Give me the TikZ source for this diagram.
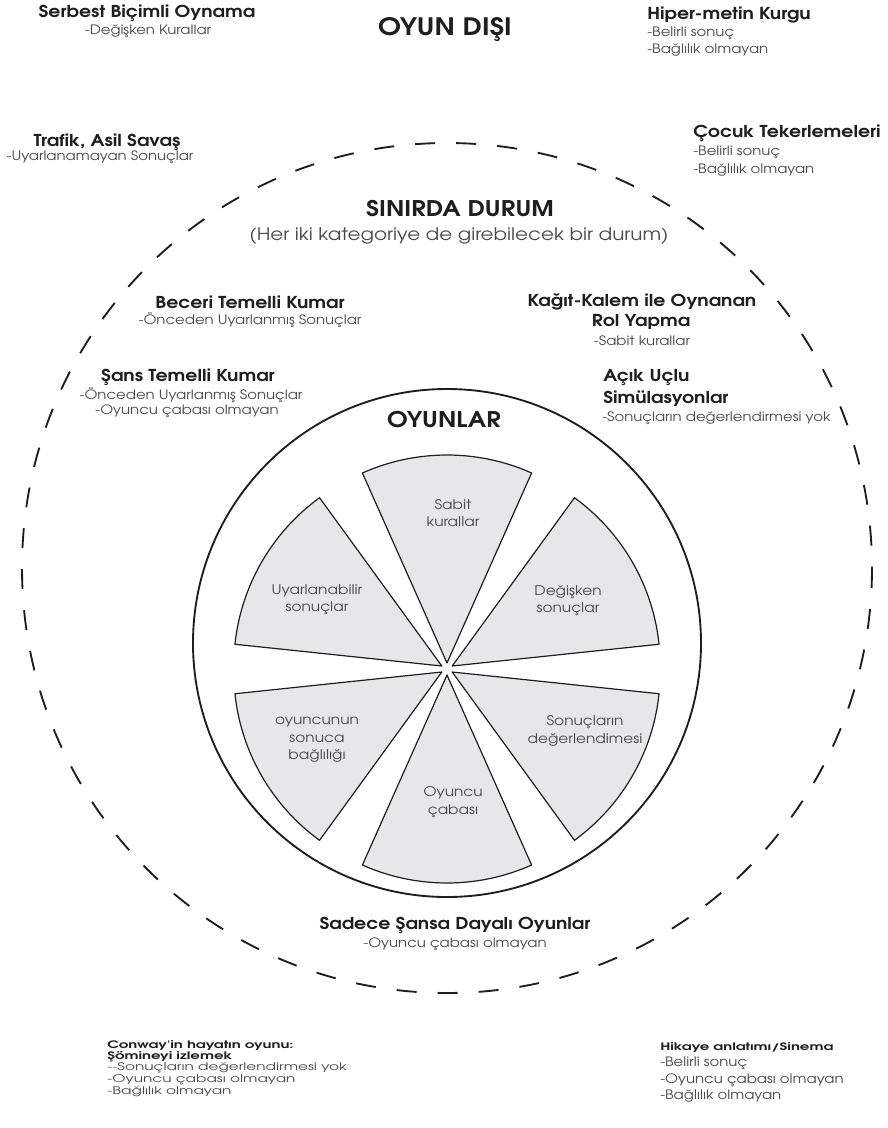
\documentclass[tikz,border=0pt]{standalone}
\usepackage{fontspec}
\setmainfont{texgyreadventor}[Extension=.otf,UprightFont=*-regular,BoldFont=*-bold,ItalicFont=*-italic,BoldItalicFont=*-bolditalic,FakeStretch=1.15]
\newfontfamily\widefont{texgyreadventor}[Extension=.otf,UprightFont=*-regular,BoldFont=*-bold,FakeStretch=1.45]
\usetikzlibrary{calc}
\definecolor{ink}{HTML}{1E1E1E}
\definecolor{soft}{HTML}{4A4A4A}
\definecolor{pale}{HTML}{E7E7EA}
\tikzstyle{slice}=[draw=ink,fill=pale,line width=0.9pt,line join=round]
\tikzstyle{title}=[inner sep=0pt,text=ink,font=\bfseries\fontsize{12.3}{14}\selectfont]
\tikzstyle{smalltitle}=[inner sep=0pt,text=ink,font=\widefont\bfseries\fontsize{7.7}{9}\selectfont]
\tikzstyle{heading}=[inner sep=0pt,text=ink,font=\bfseries\fontsize{16.2}{19}\selectfont]
\tikzstyle{note}=[inner sep=0pt,text=soft,font=\fontsize{9.7}{11}\selectfont]
\tikzstyle{smallnote}=[inner sep=0pt,text=soft,font=\widefont\fontsize{7.9}{9}\selectfont]
\tikzstyle{slicetext}=[inner sep=0pt,text=soft,align=center,font=\fontsize{10}{13}\selectfont]

\begin{document}
\begin{tikzpicture}[x=0.75pt,y=-0.75pt]
	\useasboundingbox (0,0) rectangle (888,1128);
	\coordinate (mid) at (447,568);
	\coordinate (core) at (447,643);
	\coordinate (hub) at (447,669);
	
	% outer border and games circle
	\draw[ink,line width=1.4pt,dash pattern=on 15pt off 15.8pt] (mid) circle[radius=425];
	\draw[ink,line width=1.4pt] (core) circle[radius=254];
	
	\foreach \b in {30,90,...,330} {
		\filldraw[slice] ($(hub)+(\b:6)$) -- ++(\b-24:208) arc[start angle=\b-24,end angle=\b+24,radius=208] -- cycle;
	}
	
	% outside the border
	\node[title] (freeplay) at (147,13) {Serbest Biçimli Oynama};
	\node[note] (freeplay1) at (148,31) {-Değişken Kurallar};
	\node[heading,font=\bfseries\fontsize{18}{21}\selectfont] (outside) at (445,30) {OYUN DIŞI};
	\node[title,anchor=west] (hyper) at (647,15) {Hiper-metin Kurgu};
	\node[note,anchor=west] (hyper1) at (647,33) {-Belirli sonuç};
	\node[note,anchor=west] (hyper2) at (647,50) {-Bağlılık olmayan};
	
	\node[title] (traffic) at (107,142) {Trafik, Asil Savaş};
	\node[note] (traffic1) at (100,157) {-Uyarlanamayan Sonuçlar};
	\node[title,anchor=west] (rhymes) at (693,133) {Çocuk Tekerlemeleri};
	\node[note,anchor=west] (rhymes1) at (693,152) {-Belirli sonuç};
	\node[note,anchor=west] (rhymes2) at (693,170) {-Bağlılık olmayan};
	
	% border cases
	\node[heading] (border) at (460,209) {SINIRDA DURUM};
	\node[inner sep=0pt,text=soft,font=\fontsize{13}{15}\selectfont] (border1) at (459,236) {(Her iki kategoriye de girebilecek bir durum)};
	
	\node[title] (skill) at (250,302) {Beceri Temelli Kumar};
	\node[note] (skill1) at (250,320) {-Önceden Uyarlanmış Sonuçlar};
	\node[title] (chance) at (188,377) {Şans Temelli Kumar};
	\node[note] (chance1) at (191,395) {-Önceden Uyarlanmış Sonuçlar};
	\node[note] (chance2) at (187,411) {-Oyuncu çabası olmayan};
	
	\node[title] (rpg) at (642,302) {Kağıt-Kalem ile Oynanan};
	\node[title] (rpg1) at (641,322) {Rol Yapma};
	\node[note] (rpg2) at (642,341) {-Sabit kurallar};
	\node[title,anchor=west] (sim) at (603,378) {Açık Uçlu};
	\node[title,anchor=west] (sim1) at (603,399) {Simülasyonlar};
	\node[note,anchor=west] (sim2) at (602,418) {-Sonuçların değerlendirmesi yok};
	
	\node[title] (luck) at (455,925) {Sadece Şansa Dayalı Oyunlar};
	\node[note] (luck1) at (455,944) {-Oyuncu çabası olmayan};
	
	% games
	\node[heading] (games) at (444,420) {OYUNLAR};
	\node[slicetext] (rules) at (453,513) {Sabit\\kurallar};
	\node[slicetext] (outcome) at (568,601) {Değişken\\sonuçlar};
	\node[slicetext] (valued) at (585,731) {Sonuçların\\değerlendimesi};
	\node[slicetext] (effort) at (453,802) {Oyuncu\\çabası};
	\node[slicetext] (attach) at (317,740) {oyuncunun\\sonuca\\bağlılığı};
	\node[slicetext] (negotiable) at (317,600) {Uyarlanabilir\\sonuçlar};
	
	% bottom corners
	\node[smalltitle,anchor=west] (conway) at (107,1045) {Conway'in hayatın oyunu:};
	\node[smalltitle,anchor=west] (conway1) at (107,1057) {Şömineyi izlemek};
	\node[smallnote,anchor=west] (conway2) at (107,1068) {--Sonuçların değerlendirmesi yok};
	\node[smallnote,anchor=west] (conway3) at (107,1080) {-Oyuncu çabası olmayan};
	\node[smallnote,anchor=west] (conway4) at (107,1092) {-Bağlılık olmayan};
	
	\node[smalltitle,anchor=west] (story) at (660,1047) {Hikaye anlatımı/Sinema};
	\node[note,anchor=west] (story1) at (660,1063) {-Belirli sonuç};
	\node[note,anchor=west] (story2) at (660,1080) {-Oyuncu çabası olmayan};
	\node[note,anchor=west] (story3) at (660,1096) {-Bağlılık olmayan};
\end{tikzpicture}
\end{document}
